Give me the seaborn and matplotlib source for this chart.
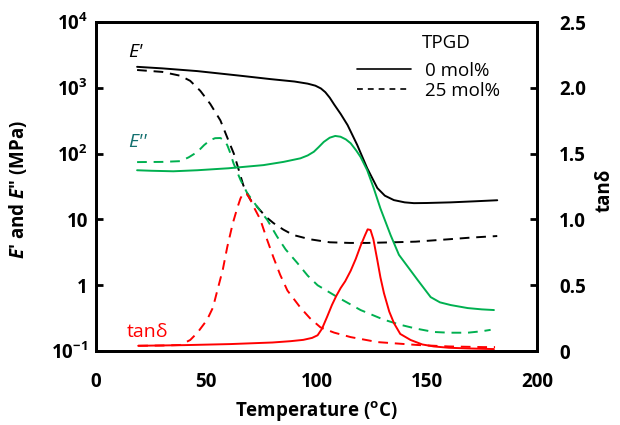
import matplotlib
matplotlib.use("Agg")
import matplotlib.pyplot as plt
from matplotlib.lines import Line2D
import seaborn as sns
import pandas as pd

# ---- storage modulus E' (MPa) ----
t_e1_0 = [18.6, 30, 45.9, 65.5, 79.1, 90, 96, 99.5, 102, 104, 106, 108, 111,
          114.1, 118.5, 123.0, 127.6, 131, 135.1, 140, 144.2, 150, 160.9, 172, 182]
e1_0 = [2090, 1980, 1800, 1530, 1360, 1250, 1160, 1080, 980, 860, 710, 560, 400,
        272, 135, 60, 30, 23, 19.7, 18.2, 17.7, 17.8, 18.2, 18.9, 19.6]

t_e1_25 = [18.6, 30, 38.2, 42.7, 47.3, 51.8, 56.4, 60, 62.5, 64.5, 66.8, 70,
           73.2, 77, 80.5, 85, 89.5, 97, 106, 115, 123, 135, 145, 160, 170, 182]
e1_25 = [1870, 1750, 1530, 1280, 900, 570, 320, 160, 100, 60, 33, 20,
         15.4, 11, 8.8, 7, 5.8, 5.0, 4.5, 4.4, 4.4, 4.5, 4.6, 5.0, 5.3, 5.6]

# ---- loss modulus E'' (MPa) ----
t_e2_0 = [18.6, 25, 35, 45.9, 60, 75.9, 85, 92.7, 96, 98.8, 101, 103.3, 106,
          108.5, 110.9, 113.3, 115.5, 118, 120, 123, 126, 129, 133.6, 137.4,
          142, 145.9, 151.8, 156, 160.9, 168.6, 175, 180.5]
e2_0 = [56, 55, 54, 56, 60, 67, 75, 85, 94, 107, 126, 151, 175,
        186, 181, 165, 144, 112, 89, 56, 29.6, 14.7, 5.8, 2.9,
        1.8, 1.2, 0.66, 0.55, 0.50, 0.45, 0.43, 0.42]

t_e2_25 = [18.6, 30, 38.2, 42, 45.9, 49, 51.8, 54, 56.4, 58, 59.5, 61, 62.3,
           65.5, 68.6, 73.2, 77.7, 82.1, 86, 91.2, 96, 100.5, 109.5, 120,
           130.5, 138.2, 145, 153.2, 160, 168.6, 175, 179]
e2_25 = [74.5, 75, 77, 88, 106, 135, 161, 172, 173, 160, 135, 100, 72,
         40, 25, 15.4, 9.8, 5.5, 3.5, 2.2, 1.4, 1.0, 0.66, 0.42,
         0.30, 0.25, 0.22, 0.195, 0.19, 0.19, 0.20, 0.21]

# ---- loss factor tan(delta) ----
t_tan_0 = [19.1, 40, 60.9, 80, 88.2, 94, 98, 100.5, 102.5, 104.8, 107, 109, 111,
           113, 115.5, 117.8, 120, 122, 123.2, 124.5, 125.8, 127.6, 129, 130.6,
           133, 135.2, 138, 142.7, 148, 153.2, 160, 168.6, 180.5]
tan_0 = [0.04, 0.045, 0.053, 0.065, 0.075, 0.085, 0.10, 0.12, 0.17, 0.26, 0.35,
         0.42, 0.48, 0.53, 0.61, 0.70, 0.80, 0.88, 0.925, 0.92, 0.85, 0.69, 0.56,
         0.44, 0.30, 0.21, 0.13, 0.084, 0.05, 0.035, 0.025, 0.02, 0.015]

t_tan_25 = [19.1, 30, 38.2, 42.7, 46, 50.3, 53, 55, 57.5, 59.5, 62, 64.1, 65.5,
            66.8, 68.5, 70, 72, 74.5, 77.5, 80.5, 83.5, 86.8, 92.7, 97, 101.8,
            108, 115.5, 127.7, 145.9, 160, 175.9, 181]
tan_25 = [0.04, 0.042, 0.046, 0.084, 0.14, 0.236, 0.33, 0.46, 0.62, 0.79, 0.97,
          1.09, 1.16, 1.2, 1.19, 1.15, 1.08, 1.0, 0.85, 0.71, 0.58, 0.46, 0.33,
          0.25, 0.18, 0.14, 0.106, 0.068, 0.046, 0.035, 0.03, 0.03]

x_ticks = [0, 50, 100, 150, 200]
y_ticks = [0.1, 1, 10, 100, 1000, 10000]
y_ticklabels = [r"$\mathbf{10^{-1}}$", "1", "10", r"$\mathbf{10^{2}}$",
                r"$\mathbf{10^{3}}$", r"$\mathbf{10^{4}}$"]
tan_ticks = [0, 0.5, 1.0, 1.5, 2.0, 2.5]
tan_ticklabels = ["0", "0.5", "1.0", "1.5", "2.0", "2.5"]

BLACK = "#000000"
GREEN = "#00b050"
RED = "#ff0000"
TEAL = "#13706f"

sns.set_style("white")
FAM = ["Open Sans", "DejaVu Sans"]
plt.rcParams.update({
    "font.family": FAM,
    "text.color": BLACK,
    "axes.labelcolor": BLACK,
    "xtick.color": BLACK,
    "ytick.color": BLACK,
    "mathtext.fontset": "custom",
    "mathtext.rm": "Open Sans",
    "mathtext.bf": "Open Sans:bold",
    "mathtext.it": "Open Sans:italic",
    "mathtext.bfit": "Open Sans:bold:italic",
})

fig = plt.figure(figsize=(6.2, 4.25), dpi=100)
ax = fig.add_axes([0.155, 0.174, 0.711, 0.774])
ax2 = ax.twinx()

LW = 1.4
DASH = (0, (5, 3.5))


def draw(axis, t, v, color, ls):
    df = pd.DataFrame({"T": t, "v": v})
    sns.lineplot(data=df, x="T", y="v", ax=axis, color=color, linewidth=LW,
                 linestyle=ls, errorbar=None)


draw(ax, t_e1_0, e1_0, BLACK, "-")
draw(ax, t_e1_25, e1_25, BLACK, DASH)
draw(ax, t_e2_0, e2_0, GREEN, "-")
draw(ax, t_e2_25, e2_25, GREEN, DASH)
draw(ax2, t_tan_0, tan_0, RED, "-")
draw(ax2, t_tan_25, tan_25, RED, DASH)

TICK_FS = 13.5
LABEL_FS = 13.5

# left axis: moduli on a log scale
ax.set_yscale("log")
ax.set_xlim(0, 200)
ax.set_ylim(0.1, 1e4)
ax.set_xticks(x_ticks)
ax.set_xticklabels([str(v) for v in x_ticks])
ax.set_yticks(y_ticks)
ax.set_yticklabels(y_ticklabels)
ax.minorticks_off()
ax.tick_params(axis="y", direction="in", length=5, width=2, pad=6,
               labelsize=TICK_FS)
ax.tick_params(axis="x", length=0, pad=15, labelsize=TICK_FS)
for lab in ax.get_xticklabels() + ax.get_yticklabels():
    lab.set_fontweight("bold")

# right axis: tan delta
ax2.set_ylim(0, 2.5)
ax2.set_yticks(tan_ticks)
ax2.set_yticklabels(tan_ticklabels)
ax2.tick_params(axis="y", direction="in", length=5, width=2, pad=16,
                labelsize=TICK_FS)
for lab in ax2.get_yticklabels():
    lab.set_fontweight("bold")

for a in (ax, ax2):
    for s in a.spines.values():
        s.set_linewidth(2.0)
        s.set_color(BLACK)

ax.set_xlabel(r"Temperature ($\mathbf{^{o}}$C)", fontsize=LABEL_FS,
              fontweight="bold")
ax.xaxis.set_label_coords(0.5, -0.148)
ax.set_ylabel(r"$\mathbfit{E}$′ and $\mathbfit{E}$″ (MPa)", fontsize=LABEL_FS,
              fontweight="bold")
ax.yaxis.set_label_coords(-0.152, 0.49)
ax2.set_ylabel("tanδ", fontsize=LABEL_FS, fontweight="bold", rotation=90)
ax2.yaxis.set_label_coords(1.13, 0.49)

# curve annotations
ax.text(14.5, 2900, "E'", fontsize=14, fontstyle="italic", color=BLACK)
ax.text(14.5, 125, "E''", fontsize=14, fontstyle="italic", color=TEAL)
ax.text(14.0, 0.165, "tanδ", fontsize=14, color=RED)

# legend for the composition
ax2.text(0.74, 0.935, "TPGD", transform=ax2.transAxes, fontsize=13.5,
         va="center", ha="left")
handles = [Line2D([], [], color=BLACK, lw=1.2, ls="-"),
           Line2D([], [], color=BLACK, lw=1.2, ls=(0, (3.5, 3)))]
ax2.legend(handles, ["0 mol%", "25 mol%"], loc="upper right",
           bbox_to_anchor=(0.945, 0.92), frameon=False, fontsize=13.5,
           handlelength=2.9, handletextpad=0.7, labelspacing=0.12,
           borderpad=0.2)

fig.savefig("out.png", dpi=100)
